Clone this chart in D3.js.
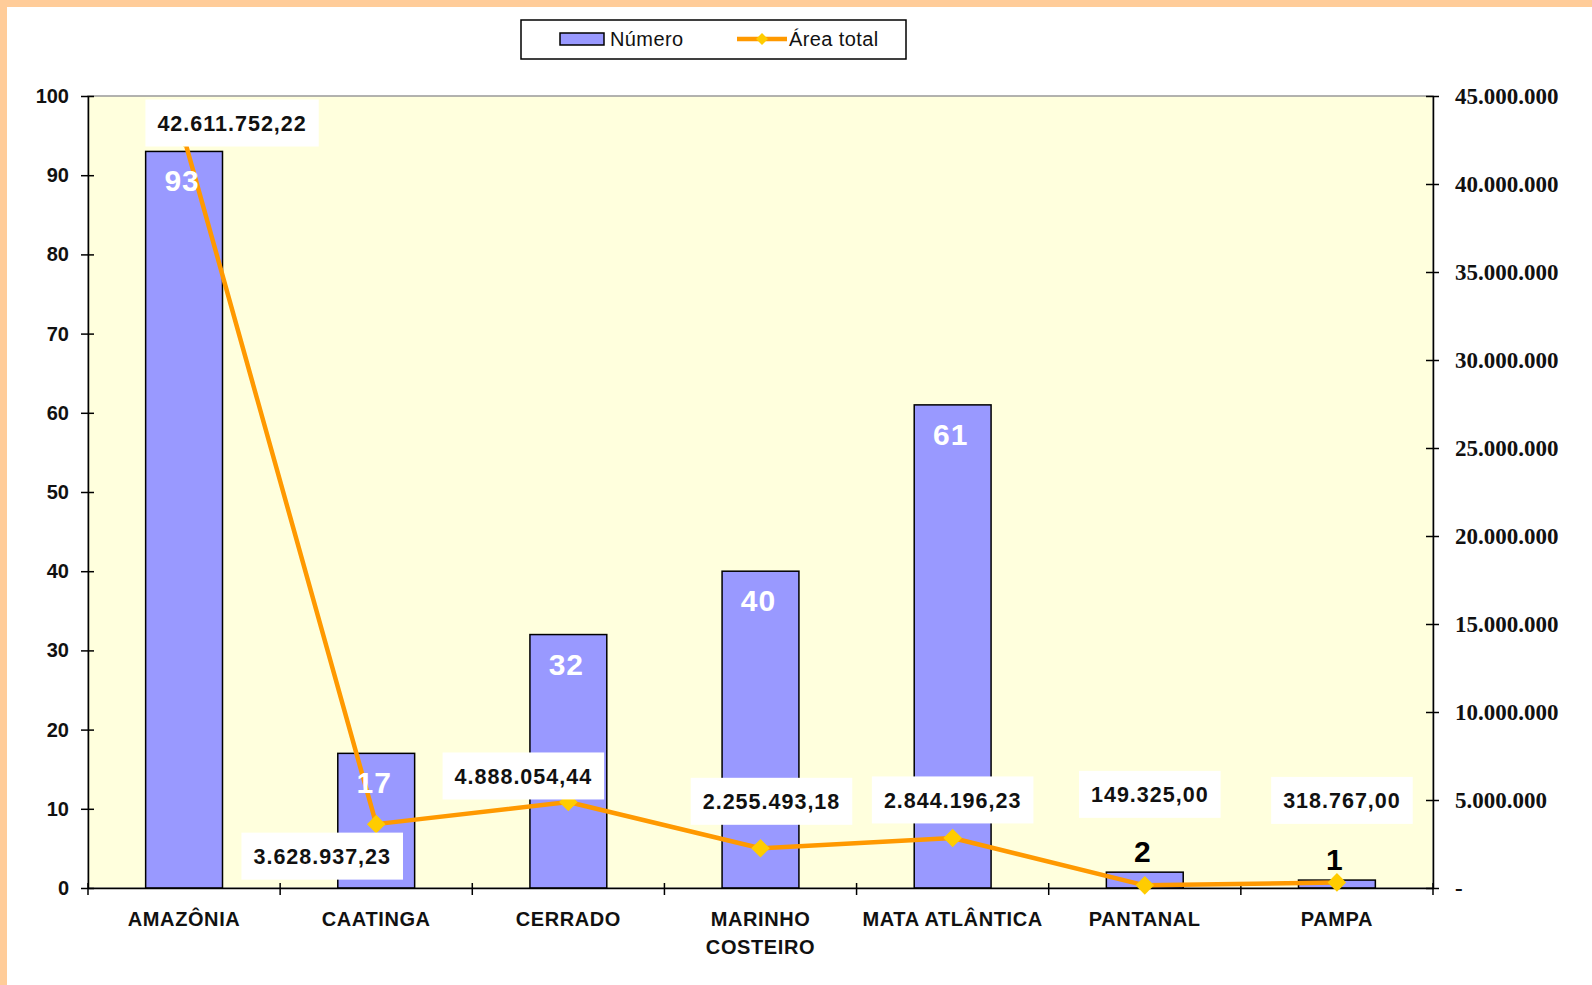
<!DOCTYPE html>
<html>
<head>
<meta charset="utf-8">
<script src="https://cdn.jsdelivr.net/npm/d3@7"></script>
<style>
  body { margin: 0; background: #fff; }
</style>
</head>
<body>
<div id="main"></div>
<script>
// data
var biomas = ["AMAZÔNIA", "CAATINGA", "CERRADO", "MARINHO COSTEIRO", "MATA ATLÂNTICA", "PANTANAL", "PAMPA"];
var numero = [93, 17, 32, 40, 61, 2, 1];
var areaTotal = [42611752.22, 3628937.23, 4888054.44, 2255493.18, 2844196.23, 149325.00, 318767.00];
var leftTicks = [0, 10, 20, 30, 40, 50, 60, 70, 80, 90, 100];
var rightTicks = [0, 5000000, 10000000, 15000000, 20000000, 25000000, 30000000, 35000000, 40000000, 45000000];

// where each area label sits relative to its point (layout only)
var labelNudge = [[48, -15], [-54, 32], [-45, -26], [11, -47], [0, -38], [5, -91], [5, -82]];

var W = 1592, H = 985;
var plot = {left: 88, right: 1433, top: 96, bottom: 888};
var sans = "Liberation Sans, Arial, sans-serif";
var serif = "Liberation Serif, Times New Roman, serif";

var br = d3.formatLocale({decimal: ",", thousands: ".", grouping: [3], currency: ["R$", ""]});
var fmtArea = br.format(",.2f");
var fmtAxis = br.format(",.0f");

var svg = d3.select("#main").append("svg")
    .attr("width", W)
    .attr("height", H)
    .attr("font-family", sans);

// orange frame (top and left only)
svg.append("rect").attr("x", 0).attr("y", 0).attr("width", W).attr("height", 7).attr("fill", "#FFCC99");
svg.append("rect").attr("x", 0).attr("y", 0).attr("width", 7).attr("height", H).attr("fill", "#FFCC99");

var x = d3.scaleBand().domain(biomas).range([plot.left, plot.right]);
var yL = d3.scaleLinear().domain([0, 100]).range([plot.bottom, plot.top]);
var yR = d3.scaleLinear().domain([0, 45000000]).range([plot.bottom, plot.top]);

// plot background
svg.append("rect")
    .attr("x", plot.left).attr("y", plot.top)
    .attr("width", plot.right - plot.left).attr("height", plot.bottom - plot.top)
    .attr("fill", "#FFFFDD")
    .attr("stroke", "#999")
    .attr("stroke-width", 1.5);

// bars
var barW = x.bandwidth() * 0.4;
svg.selectAll(".bar").data(numero).enter().append("rect")
    .attr("class", "bar")
    .attr("x", (d, i) => x(biomas[i]) + (x.bandwidth() - barW) / 2)
    .attr("y", d => yL(d))
    .attr("width", barW)
    .attr("height", d => yL(0) - yL(d))
    .attr("fill", "#9999FF")
    .attr("stroke", "#000")
    .attr("stroke-width", 1.5);

// left axis
var axL = svg.append("g").attr("transform", "translate(" + plot.left + ",0)")
    .call(d3.axisLeft(yL).tickValues(leftTicks).tickSize(7).tickSizeOuter(0).tickPadding(12));
axL.selectAll(".tick line").attr("x1", -7).attr("x2", 6);
axL.attr("font-family", sans);
axL.selectAll("text").attr("font-size", 20).attr("font-weight", "bold").attr("fill", "#111");

// right axis
var axR = svg.append("g").attr("transform", "translate(" + plot.right + ",0)")
    .call(d3.axisRight(yR).tickValues(rightTicks).tickSizeOuter(0).tickPadding(16)
      .tickFormat(d => d === 0 ? "-" : fmtAxis(d)));
axR.selectAll(".tick line").attr("x1", -7).attr("x2", 6);
axR.attr("font-family", serif);
axR.selectAll("text").attr("font-size", 23).attr("font-weight", "bold").attr("fill", "#111");

// bottom axis with ticks between categories
var axB = svg.append("g").attr("transform", "translate(0," + plot.bottom + ")")
    .call(d3.axisBottom(x).tickSize(0).tickSizeOuter(0).tickPadding(0).tickFormat(""));
var sep = d3.range(biomas.length + 1);
axB.selectAll(".sep").data(sep).enter().append("line")
    .attr("class", "sep")
    .attr("x1", i => i < biomas.length ? x(biomas[i]) : plot.right)
    .attr("x2", i => i < biomas.length ? x(biomas[i]) : plot.right)
    .attr("y1", -5).attr("y2", 7);
[axL, axR, axB].forEach(a => a.selectAll(".domain, line").attr("stroke", "#000").attr("stroke-width", 1.5));

var xl = svg.append("g");
biomas.forEach(function(b) {
  var words = b === "MARINHO COSTEIRO" ? ["MARINHO", "COSTEIRO"] : [b];
  var t = xl.append("text")
      .attr("x", x(b) + x.bandwidth() / 2)
      .attr("y", plot.bottom + 38)
      .attr("text-anchor", "middle")
      .attr("font-size", 20).attr("font-weight", "bold")
      .attr("letter-spacing", 0.6)
      .attr("fill", "#111");
  words.forEach(function(w, k) {
    t.append("tspan").attr("x", x(b) + x.bandwidth() / 2).attr("dy", k ? 27.5 : 0).text(w);
  });
});

// area line
var cx = i => x(biomas[i]) + x.bandwidth() / 2;
var line = d3.line().x((d, i) => cx(i)).y(d => yR(d));
svg.append("path")
    .attr("d", line(areaTotal))
    .attr("fill", "none")
    .attr("stroke", "#FF9900")
    .attr("stroke-width", 4.5)
    .attr("stroke-linejoin", "round");
svg.selectAll(".mk").data(areaTotal).enter().append("path")
    .attr("class", "mk")
    .attr("d", d3.symbol(d3.symbolDiamond2, 220))
    .attr("transform", (d, i) => "translate(" + cx(i) + "," + yR(d) + ")")
    .attr("fill", "#FFCC00");

// bar value labels
svg.selectAll(".vl").data(numero).enter().append("text")
    .attr("class", "vl")
    .attr("x", (d, i) => cx(i) - 2)
    .attr("y", d => d > 10 ? yL(d) + 40 : yL(d) - 10)
    .attr("text-anchor", "middle")
    .attr("font-size", 30).attr("font-weight", "bold")
    .attr("letter-spacing", 1)
    .attr("fill", d => d > 10 ? "#fff" : "#000")
    .text(d => d);

// area value labels with white boxes
var al = svg.selectAll(".al").data(areaTotal).enter().append("g")
    .attr("class", "al")
    .attr("transform", (d, i) => "translate(" + (cx(i) + labelNudge[i][0]) + "," + (yR(d) + labelNudge[i][1]) + ")");
al.append("text")
    .attr("text-anchor", "middle")
    .attr("dy", "0.36em")
    .attr("font-size", 21.5).attr("font-weight", "bold")
    .attr("letter-spacing", 1)
    .attr("fill", "#111")
    .text(d => fmtArea(d));
al.each(function() {
  var g = d3.select(this);
  var bb = g.select("text").node().getBBox();
  g.insert("rect", "text")
    .attr("x", bb.x - 12).attr("y", -23.5)
    .attr("width", bb.width + 24).attr("height", 47)
    .attr("fill", "#fff");
});

// legend
var lg = svg.append("g");
lg.append("rect").attr("x", 521).attr("y", 20).attr("width", 385).attr("height", 39)
    .attr("fill", "#fff").attr("stroke", "#000").attr("stroke-width", 1.5);
lg.append("rect").attr("x", 560).attr("y", 33).attr("width", 44).attr("height", 12)
    .attr("fill", "#9999FF").attr("stroke", "#000").attr("stroke-width", 1.5);
lg.append("text").attr("x", 610).attr("y", 46).attr("font-size", 20).attr("letter-spacing", 0.4)
    .attr("fill", "#111").text("Número");
lg.append("line").attr("x1", 737).attr("x2", 787).attr("y1", 39).attr("y2", 39)
    .attr("stroke", "#FF9900").attr("stroke-width", 4.5);
lg.append("path").attr("d", d3.symbol(d3.symbolDiamond2, 90))
    .attr("transform", "translate(762,39)").attr("fill", "#FFCC00");
lg.append("text").attr("x", 789).attr("y", 46).attr("font-size", 20).attr("letter-spacing", 0.4)
    .attr("fill", "#111").text("Área total");
</script>
</body>
</html>
